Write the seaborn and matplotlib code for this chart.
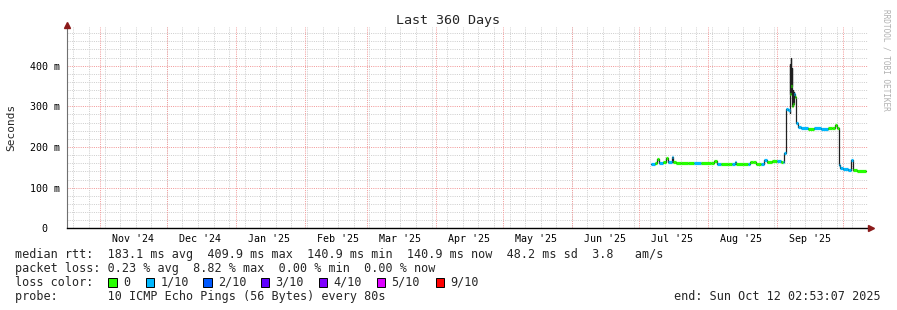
import numpy as np
import pandas as pd
import matplotlib
matplotlib.use("Agg")
import matplotlib.pyplot as plt
from matplotlib.patches import Rectangle
import seaborn as sns

# ---------------- data ----------------
sample_times = [
    "2025-07-06 18:00", "2025-07-08 06:00", "2025-07-09 06:00", "2025-07-10 03:00",
    "2025-07-12 00:00", "2025-07-13 04:00", "2025-07-14 08:00", "2025-07-15 20:00",
    "2025-07-16 12:00", "2025-07-18 00:00", "2025-07-20 00:00", "2025-07-23 00:00",
    "2025-07-26 00:00", "2025-07-29 00:00", "2025-08-02 18:00", "2025-08-03 20:00",
    "2025-08-05 04:00", "2025-08-07 00:00", "2025-08-10 00:00", "2025-08-12 00:00",
    "2025-08-13 05:00", "2025-08-14 00:00", "2025-08-17 00:00", "2025-08-19 00:00",
    "2025-08-20 05:00", "2025-08-21 12:00", "2025-08-23 00:00", "2025-08-25 00:00",
    "2025-08-26 05:00", "2025-08-27 17:00", "2025-08-30 00:00", "2025-09-01 00:00",
    "2025-09-03 00:00", "2025-09-03 22:00", "2025-09-04 07:00", "2025-09-05 05:00",
    "2025-09-06 00:00", "2025-09-06 22:00", "2025-09-07 01:00", "2025-09-07 04:00",
    "2025-09-07 07:00", "2025-09-07 10:00", "2025-09-07 13:00", "2025-09-07 16:00",
    "2025-09-07 19:00", "2025-09-07 22:00", "2025-09-08 01:00", "2025-09-08 04:00",
    "2025-09-08 08:00", "2025-09-08 12:00", "2025-09-08 16:00", "2025-09-08 20:00",
    "2025-09-09 00:00", "2025-09-09 07:00", "2025-09-09 22:00", "2025-09-10 14:00",
    "2025-09-12 00:00", "2025-09-15 00:00", "2025-09-18 00:00", "2025-09-21 00:00",
    "2025-09-24 00:00", "2025-09-26 00:00", "2025-09-27 07:00", "2025-09-28 05:00",
    "2025-09-28 22:00", "2025-09-29 14:00", "2025-10-01 00:00", "2025-10-03 00:00",
    "2025-10-04 14:00", "2025-10-05 12:00", "2025-10-07 00:00", "2025-10-11 07:00",
]
median_ms = [
    157, 160, 171, 160,
    164, 173, 162, 176,
    164, 160, 161, 161,
    160, 161, 161, 165,
    158, 157, 157, 157,
    163, 159, 159, 159,
    162, 162, 159, 159,
    168, 162, 165, 165,
    164, 163, 185, 293,
    291, 283, 405, 330,
    418, 345, 410, 350,
    395, 320, 345, 300,
    340, 305, 335, 310,
    330, 322, 258, 250,
    246, 245, 246, 245,
    246, 248, 254, 248,
    156, 148, 145, 144,
    168, 144, 142, 142,
]
loss_count = [
    1, 0, 0, 1,
    0, 0, 1, 1,
    0, 0, 0, 0,
    1, 0, 0, 0,
    1, 0, 0, 1,
    1, 0, 0, 1,
    0, 0, 0, 1,
    1, 0, 0, 1,
    0, 1, 1, 1,
    1, 0, 0, 0,
    0, 0, 0, 0,
    0, 0, 0, 0,
    1, 0, 1, 0,
    1, 0, 1, 1,
    1, 0, 1, 1,
    0, 0, 0, 0,
    1, 1, 1, 1,
    1, 0, 0, 0,
]

loss_levels = [0, 1, 2, 3, 4, 5, 9]
loss_labels = ["0", "1/10", "2/10", "3/10", "4/10", "5/10", "9/10"]
loss_colors = ["#26ff00", "#00b8ff", "#0059ff", "#5e00ff", "#7e00ff", "#dd00ff", "#ff0000"]

month_labels = ["Nov '24", "Dec '24", "Jan '25", "Feb '25", "Mar '25", "Apr '25",
                "May '25", "Jun '25", "Jul '25", "Aug '25", "Sep '25"]
y_tick_values = [0, 100, 200, 300, 400]
y_tick_labels = ["0  ", "100 m", "200 m", "300 m", "400 m"]

title_text = "Last 360 Days"
y_label = "Seconds"
range_start = "2024-10-17 02:53:07"
range_end = "2025-10-12 02:53:07"
stat_rtt = "median rtt:  183.1 ms avg  409.9 ms max  140.9 ms min  140.9 ms now  48.2 ms sd  3.8   am/s"
stat_loss = "packet loss: 0.23 % avg  8.82 % max  0.00 % min  0.00 % now"
loss_title = "loss color:"
probe_text = "probe:       10 ICMP Echo Pings (56 Bytes) every 80s"
end_text = "end: Sun Oct 12 02:53:07 2025"
watermark = "RRDTOOL / TOBI OETIKER"

# ---------------- figure ----------------
sns.set_style("white")
plt.rcParams["font.family"] = ["DejaVu Sans Mono", "DejaVu Sans"]

W, H = 897, 310
fig = plt.figure(figsize=(W / 100, H / 100), dpi=100)
fig.patch.set_facecolor("white")

L, R, T, B = 67, 868, 26.7, 228.3
ax = fig.add_axes([L / W, 1 - B / H, (R - L) / W, (B - T) / H])
ax.set_facecolor("white")

t0 = pd.Timestamp(range_start)
t1 = pd.Timestamp(range_end)
YMAX = 496

# grid
minor_col = "#cfcfcf"
major_col = "#f29a9a"
dots = (0, (1, 1.2))
weeks = pd.date_range("2024-10-20", t1, freq="7D")
months = pd.date_range("2024-11-01", t1, freq="MS")
grid_kw = dict(lw=0.72, linestyles=dots)
ax.vlines(weeks, 0, YMAX, colors=minor_col, zorder=0, **grid_kw)
ax.vlines(months, 0, YMAX, colors=major_col, zorder=0.5, **grid_kw)
minor_y = [v for v in np.arange(20, YMAX, 20) if v % 100 != 0]
ax.hlines(minor_y, t0, t1, colors=minor_col, zorder=0, **grid_kw)
ax.hlines([100, 200, 300, 400], t0, t1, colors=major_col, zorder=0.5, **grid_kw)

# data
df = pd.DataFrame({"time": pd.to_datetime(sample_times), "median": median_ms, "loss": loss_count})
sns.lineplot(data=df, x="time", y="median", drawstyle="steps-post", color="#202020",
             lw=0.9, ax=ax, zorder=3)
cmap = dict(zip(loss_levels, loss_colors))
seg_cols = [cmap[v] for v in df["loss"].iloc[:-1]]
ax.hlines(df["median"].iloc[:-1], df["time"].iloc[:-1], df["time"].iloc[1:].values,
          colors=seg_cols, lw=2.3, zorder=4)
ax.set_xlabel("")
ax.set_ylabel("")
ax.set_xlim(t0, t1)
ax.set_ylim(0, YMAX)

# ticks
ax.set_yticks(y_tick_values)
ax.set_yticklabels(y_tick_labels)
ax.set_yticks(np.arange(0, YMAX, 20), minor=True)
label_pos = [m + pd.Timedelta(days=15) for m in months if m + pd.Timedelta(days=15) < t1]
ax.set_xticks(label_pos)
ax.set_xticklabels(month_labels[:len(label_pos)])
ax.set_xticks(weeks, minor=True)
ax.tick_params(axis="x", which="major", length=0, pad=4.2, labelsize=7.2, colors="#000000")
ax.tick_params(axis="x", which="minor", length=2, width=0.6, color="#555555", direction="out")
ax.tick_params(axis="y", which="major", length=2.5, width=0.7, pad=2.2, labelsize=7.2,
               color="#555555", labelcolor="#000000", direction="out")
ax.tick_params(axis="y", which="minor", length=1.5, width=0.6, color="#555555", direction="out")

for s in ["top", "right"]:
    ax.spines[s].set_visible(False)
ax.spines["left"].set_color("#707070")
ax.spines["left"].set_linewidth(0.8)
ax.spines["bottom"].set_color("#000000")
ax.spines["bottom"].set_linewidth(1.0)
ax.spines["left"].set_zorder(5)
ax.spines["bottom"].set_zorder(5)

arrow_col = "#8b1a1a"
ax.plot([0], [1.0 + 2.0 / (B - T)], marker="^", ms=4, color=arrow_col, transform=ax.transAxes,
        clip_on=False, zorder=6)
ax.plot([1.0 + 3.0 / (R - L)], [0], marker=">", ms=4, color=arrow_col, transform=ax.transAxes,
        clip_on=False, zorder=6)

# texts
def fx(px):
    return px / W

def fy(py):
    return 1 - py / H

fig.text(fx(448), fy(24), title_text, ha="center", va="baseline", fontsize=9.6)
fig.text(fx(11), fy(127), y_label, ha="center", va="center", rotation=90, fontsize=8.0)
fig.text(fx(886), fy(60), watermark, ha="center", va="center", rotation=270,
         fontsize=5.6, color="#b0b0b0")

fs = 8.5
fig.text(fx(15), fy(258.3), stat_rtt, ha="left", va="baseline", fontsize=fs)
fig.text(fx(15), fy(272.0), stat_loss, ha="left", va="baseline", fontsize=fs)
fig.text(fx(15), fy(285.8), loss_title, ha="left", va="baseline", fontsize=fs)
fig.text(fx(15), fy(299.6), probe_text, ha="left", va="baseline", fontsize=fs)
fig.text(fx(881), fy(299.6), end_text, ha="right", va="baseline", fontsize=fs)

box_x = [108.3, 145.7, 203.3, 261.0, 318.7, 376.7, 435.7]
for bx, col, lab in zip(box_x, loss_colors, loss_labels):
    fig.add_artist(Rectangle((fx(bx), fy(286.7)), 8.3 / W, 8.3 / H, transform=fig.transFigure,
                             facecolor=col, edgecolor="#000000", lw=0.7))
    fig.text(fx(bx + 14.5), fy(285.8), lab, ha="left", va="baseline", fontsize=fs)

fig.savefig("out.png", dpi=100, facecolor="white")
